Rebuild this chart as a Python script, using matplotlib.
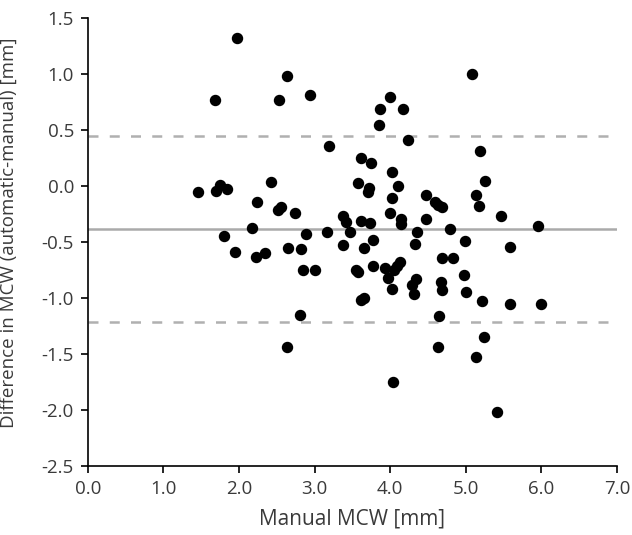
import matplotlib
matplotlib.use("Agg")
import matplotlib.pyplot as plt

plt.rcParams['font.family'] = ['Open Sans', 'DejaVu Sans']

# manual MCW [mm] vs difference (automatic - manual) [mm]
manual = [1.98, 2.63, 1.68, 2.53, 2.94, 3.19, 1.46, 1.69, 1.75, 1.835,
          2.42, 2.24, 2.51, 2.55, 2.74, 1.80, 2.17, 1.945, 2.22, 2.35,
          2.65, 2.82, 2.89, 3.17, 2.85, 3.00, 2.81, 2.63, 4.00, 3.86,
          4.17, 3.855, 4.24, 3.61, 3.745, 4.03, 4.10, 3.58, 3.72, 3.705,
          4.03, 4.48, 4.60, 4.64, 4.69, 3.38, 3.42, 3.62, 3.73, 4.00,
          4.14, 4.14, 4.48, 4.79, 5.09, 3.47, 3.38, 3.66, 3.78, 4.36,
          4.33, 4.99, 3.555, 3.58, 3.77, 3.93, 3.97, 4.05, 4.085, 4.13,
          4.02, 4.34, 4.29, 4.32, 4.69, 4.83, 4.67, 4.69, 4.98, 5.00,
          3.62, 3.65, 4.65, 4.64, 4.04, 5.195, 5.25, 5.13, 5.18, 5.47,
          5.96, 5.59, 5.22, 5.59, 6.00, 5.24, 5.13, 5.42]
diff = [1.32, 0.98, 0.77, 0.77, 0.81, 0.36, -0.05, -0.04, 0.01, -0.03,
        0.04, -0.14, -0.21, -0.19, -0.24, -0.45, -0.37, -0.59, -0.63, -0.60,
        -0.55, -0.56, -0.43, -0.41, -0.75, -0.75, -1.15, -1.44, 0.80, 0.69,
        0.685, 0.545, 0.41, 0.25, 0.21, 0.125, 0.0, 0.03, -0.015, -0.056,
        -0.11, -0.08, -0.14, -0.17, -0.185, -0.27, -0.32, -0.31, -0.33, -0.24,
        -0.29, -0.34, -0.29, -0.38, 1.00, -0.41, -0.53, -0.55, -0.48, -0.41,
        -0.52, -0.49, -0.75, -0.77, -0.71, -0.73, -0.82, -0.75, -0.71, -0.68,
        -0.92, -0.83, -0.88, -0.96, -0.64, -0.64, -0.86, -0.93, -0.79, -0.95,
        -1.02, -1.00, -1.16, -1.44, -1.75, 0.31, 0.045, -0.08, -0.175, -0.27,
        -0.36, -0.54, -1.03, -1.05, -1.05, -1.35, -1.53, -2.015]

mean_diff = -0.38
upper_loa = 0.45
lower_loa = -1.21

fig = plt.figure(figsize=(6.32, 5.35), dpi=100)
ax = fig.add_axes([0.139, 0.129, 0.837, 0.837])

ax.axhline(mean_diff, color='#aaaaaa', lw=1.8, zorder=1)
ax.axhline(upper_loa, color='#b0b0b0', lw=1.8, dashes=(4, 4.5), zorder=1)
ax.axhline(lower_loa, color='#b0b0b0', lw=1.8, dashes=(4, 4.5), zorder=1)

ax.scatter(manual, diff, s=52, color='black', zorder=3)

ax.set_xlim(0, 7)
ax.set_ylim(-2.5, 1.5)
ax.set_xticks([0, 1, 2, 3, 4, 5, 6, 7])
ax.set_yticks([-2.5, -2.0, -1.5, -1.0, -0.5, 0.0, 0.5, 1.0, 1.5])
ax.set_xticklabels(['%.1f' % v for v in ax.get_xticks()])
ax.set_yticklabels(['%.1f' % v for v in ax.get_yticks()])
ax.tick_params(direction='out', length=5, width=1.2, labelsize=13.5,
               colors='black', labelcolor='#3a3a3a')
ax.tick_params(axis='x', pad=5)
ax.tick_params(axis='y', pad=5)
ax.spines['top'].set_visible(False)
ax.spines['right'].set_visible(False)
ax.spines['left'].set_linewidth(1.2)
ax.spines['bottom'].set_linewidth(1.2)

ax.set_xlabel('Manual MCW [mm]', fontsize=15, color='#3a3a3a')
ax.set_ylabel('Difference in MCW (automatic-manual) [mm]', fontsize=13.5,
              color='#3a3a3a')
ax.xaxis.set_label_coords(0.5, -0.096)
ax.yaxis.set_label_coords(-0.133, 0.52)

fig.savefig('out.png', dpi=100)
